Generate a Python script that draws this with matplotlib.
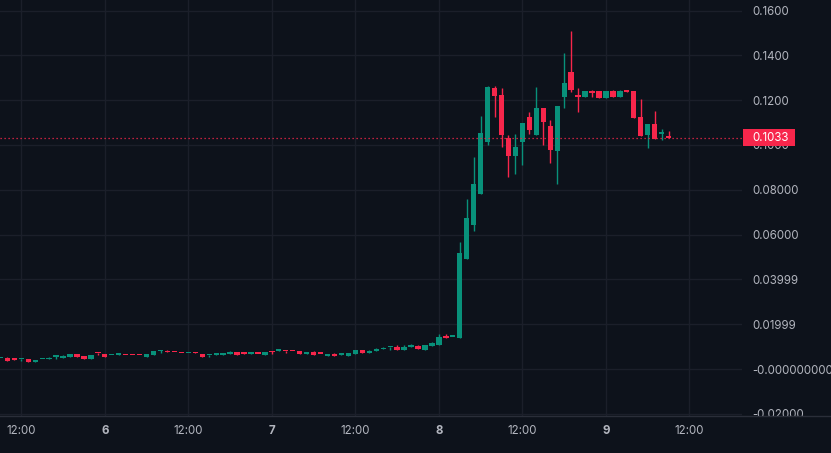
import numpy as np
import matplotlib
matplotlib.use("Agg")
import matplotlib.pyplot as plt
from matplotlib.patches import Rectangle
from matplotlib.transforms import IdentityTransform, blended_transform_factory

# hourly candles, hour 0 = day 5 12:00
hours = list(range(-3, 94))
opens = [.00470, .00506, .00410, .00428, .00446, .00327, .00428, .00432, .00530, .00506,
         .00551, .00670, .00580, .00461, .00705, .00670, .00605, .00620, .00614, .00614,
         .00614, .00551, .00640, .00785, .00748, .00748, .00703, .00695, .00703, .00670,
         .00606, .00620, .00625, .00685, .00759, .00674, .00666, .00674, .00640, .00748,
         .00800, .00793, .00793, .00804, .00685, .00759, .00674, .00595, .00685, .00620,
         .00595, .00685, .00848, .00729, .00818, .00878, .00960, .00967, .00863, .00967,
         .01027, .00863, .01042, .01086, .01488, .01425, .0140, .0493, .0644, .0783,
         .1015, .1254, .1223, .1031, .0952, .1015, .1125, .1046, .1165, .1085,
         .0975, .1216, .1326, .1223, .1216, .1238, .1241, .1211, .1241, .1216,
         .1240, .1241, .1125, .1046, .1094, .1050, .1034]
highs = [.00480, .00551, .00506, .00435, .00446, .00402, .00435, .00551, .00595, .00640,
         .00670, .00670, .00580, .00625, .00705, .00670, .00612, .00670, .00614, .00614,
         .00614, .00670, .00804, .00848, .00848, .00748, .00703, .00703, .00744, .00670,
         .00614, .00670, .00714, .00804, .00759, .00714, .00714, .00674, .00759, .00804,
         .00893, .00793, .00793, .00804, .00759, .00804, .00674, .00685, .00729, .00685,
         .00729, .00848, .00848, .00863, .00952, .00982, .00967, .01071, .01071, .01116,
         .01071, .01071, .01190, .01563, .01563, .01432, .0567, .0759, .0946, .1129,
         .1262, .1263, .1254, .1045, .1049, .1098, .1147, .1259, .1165, .1112,
         .1174, .1411, .1509, .1254, .1241, .1246, .1241, .1241, .1246, .1246,
         .1240, .1241, .1205, .1094, .1152, .1071, .1062]
lows = [.00470, .00372, .00400, .00372, .00327, .00327, .00428, .00432, .00461, .00506,
        .00551, .00551, .00461, .00461, .00640, .00551, .00605, .00620, .00606, .00606,
        .00606, .00551, .00640, .00729, .00740, .00740, .00695, .00695, .00695, .00551,
        .00551, .00620, .00625, .00685, .00640, .00666, .00666, .00666, .00640, .00685,
        .00800, .00729, .00785, .00685, .00685, .00640, .00666, .00595, .00595, .00620,
        .00595, .00685, .00729, .00729, .00818, .00878, .00863, .00863, .00863, .00967,
        .00908, .00863, .01042, .01086, .01399, .01425, .0140, .0493, .0618, .0783,
        .1001, .1126, .0993, .0859, .0872, .0912, .1051, .1046, .1001, .0921,
        .0827, .1167, .1238, .1149, .1216, .1216, .1211, .1211, .1216, .1216,
        .1238, .1122, .1042, .0988, .1028, .1022, .1033]
closes = [.00478, .00372, .00400, .00435, .00327, .00402, .00435, .00506, .00540, .00595,
          .00670, .00551, .00461, .00625, .00695, .00551, .00612, .00628, .00606, .00606,
          .00606, .00670, .00804, .00792, .00740, .00740, .00695, .00703, .00695, .00551,
          .00614, .00628, .00714, .00774, .00640, .00666, .00674, .00666, .00759, .00740,
          .00808, .00785, .00785, .00685, .00759, .00640, .00666, .00685, .00595, .00628,
          .00729, .00848, .00729, .00818, .00908, .00885, .00967, .00863, .00982, .01086,
          .00908, .01071, .01161, .01429, .01399, .01432, .0518, .0674, .0826, .1054,
          .1259, .1220, .1045, .0952, .0991, .1098, .1068, .1165, .1104, .0979,
          .1174, .1277, .1247, .1216, .1241, .1234, .1211, .1241, .1216, .1241,
          .1238, .1122, .1042, .1094, .1028, .1054, .1033]

price_ticks = [0.16, 0.14, 0.12, 0.10, 0.08, 0.06, 0.04, 0.02, 0.0, -0.02]
price_labels = ["0.1600", "0.1400", "0.1200", "0.1000", "0.08000", "0.06000",
                "0.03999", "0.01999", "-0.000000000000", "-0.02000"]
time_ticks = [0, 12, 24, 36, 48, 60, 72, 84, 96]
time_labels = ["12:00", "6", "12:00", "7", "12:00", "8", "12:00", "9", "12:00"]
last_price = 0.1033

BG = "#0d121b"
GRID = "#1b1f2a"
TXT = "#b2b5be"
UP = "#08917a"
DOWN = "#f7264b"

plt.rcParams['font.family'] = ['Inter', 'DejaVu Sans']

W, H = 831, 453
fig = plt.figure(figsize=(W / 100, H / 100), dpi=100, facecolor=BG)
pane_w, pane_h, time_h = 742, 416, 37
ax = fig.add_axes([0, time_h / H, pane_w / W, pane_h / H], facecolor=BG)

px_per_hour = 6.96
x0 = -21.3 / px_per_hour
ax.set_xlim(x0, x0 + pane_w / px_per_hour)
ax.set_ylim(-0.02098, 0.16473)

for s in ax.spines.values():
    s.set_visible(False)

# grid
for p in price_ticks:
    ax.axhline(p, color=GRID, lw=1, zorder=0)
for t in time_ticks:
    ax.axvline(t, color=GRID, lw=1, zorder=0)

# candles
o = np.array(opens); c = np.array(closes)
hi = np.array(highs); lo = np.array(lows)
up = c >= o
cols = np.where(up, UP, DOWN)
bottom = np.minimum(o, c)
height = np.maximum(np.abs(c - o), 0.0008)
ax.vlines(hours, lo, hi, colors=cols, lw=1, zorder=2)
ax.bar(hours, height, bottom=bottom, width=0.76, color=cols, lw=0, zorder=3)

# last price line
ax.axhline(last_price, color=DOWN, lw=0.9, dashes=(1, 2.2), zorder=4)

# price scale on the right
ax.set_xticks([])
ax.yaxis.tick_right()
ax.set_yticks(price_ticks)
ax.set_yticklabels(price_labels)
ax.tick_params(axis='y', length=0, pad=7.5, labelsize=8.3, labelcolor=TXT)

# last price tag
ypix = ax.transData.transform((0, last_price))[1]
fig.add_artist(Rectangle((743, ypix - 8.5), 52, 17, transform=IdentityTransform(),
                         facecolor=DOWN, edgecolor='none', zorder=5))
fig.text(752 / W, ypix / H, "%.4f" % last_price, color="white", fontsize=8.3,
         va='center', ha='left', zorder=6)

# time scale
axt = fig.add_axes([0, 0, 1, time_h / H], facecolor=BG)
axt.set_zorder(3)
axt.set_xlim(x0, x0 + W / px_per_hour)
axt.set_ylim(0, 1)
axt.set_xticks([]); axt.set_yticks([])
for k, s in axt.spines.items():
    s.set_visible(k == 'top')
axt.spines['top'].set_color("#2a2e39")
axt.spines['top'].set_linewidth(1)
tr = blended_transform_factory(axt.transData, axt.transAxes)
for t, lab in zip(time_ticks, time_labels):
    bold = ':' not in lab
    axt.text(t, 0.6, lab, transform=tr, ha='center', va='center', color=TXT,
             fontsize=8.3, fontweight='bold' if bold else 'normal')

fig.savefig("out.png", dpi=100, facecolor=BG)
